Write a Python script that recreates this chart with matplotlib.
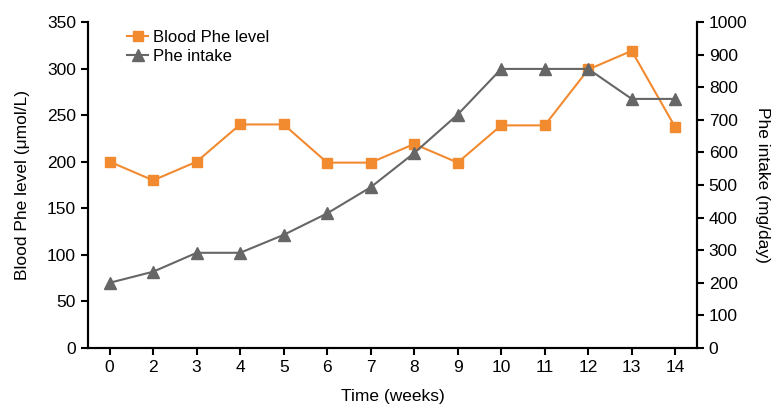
import numpy as np
import matplotlib.pyplot as plt

plt.rcParams["font.family"] = ["Liberation Sans", "DejaVu Sans"]
plt.rcParams["font.size"] = 12

# data
weeks = ["0", "2", "3", "4", "5", "6", "7", "8", "9", "10", "11", "12", "13", "14"]
blood_phe = [200, 180, 200, 240, 240, 199, 199, 219, 199, 239, 239, 299, 319, 237]
phe_intake = [200, 234, 292, 292, 347, 413, 493, 598, 716, 856, 856, 856, 764, 764]

orange = "#F28A30"
grey = "#666666"

fig = plt.figure(figsize=(7.71, 4.07), dpi=100)
ax = fig.add_axes([0.114, 0.145, 0.790, 0.801])
ax2 = ax.twinx()

x = np.arange(len(weeks))

l1, = ax.plot(x, blood_phe, color=orange, marker="s", markersize=7,
              linewidth=1.5, label="Blood Phe level", zorder=3)
l2, = ax2.plot(x, phe_intake, color=grey, marker="^", markersize=9,
               linewidth=1.5, label="Phe intake", zorder=2)

ax.set_xlim(-0.5, len(weeks) - 0.5)
ax.set_ylim(0, 350)
ax2.set_ylim(0, 1000)
ax.set_xticks(x)
ax.set_xticklabels(weeks)
ax.set_yticks(np.arange(0, 351, 50))
ax2.set_yticks(np.arange(0, 1001, 100))

for a in (ax, ax2):
    a.spines["top"].set_visible(False)
    for s in a.spines.values():
        s.set_linewidth(1.5)
    a.tick_params(direction="out", length=5, width=1.5, labelsize=12.5, colors="black")

ax.set_xlabel("Time (weeks)", fontsize=12.5, labelpad=10)
ax.set_ylabel("Blood Phe level (μmol/L)", fontsize=12.5, labelpad=12)
ax2.set_ylabel("Phe intake (mg/day)", fontsize=12.5, rotation=270, labelpad=16)

ax.legend(handles=[l1, l2], loc="upper left", bbox_to_anchor=(0.05, 1.0),
          frameon=False, fontsize=12, handlelength=1.3, handletextpad=0.3,
          labelspacing=0.2, borderaxespad=0.1)

fig.savefig("out.png", dpi=100)
